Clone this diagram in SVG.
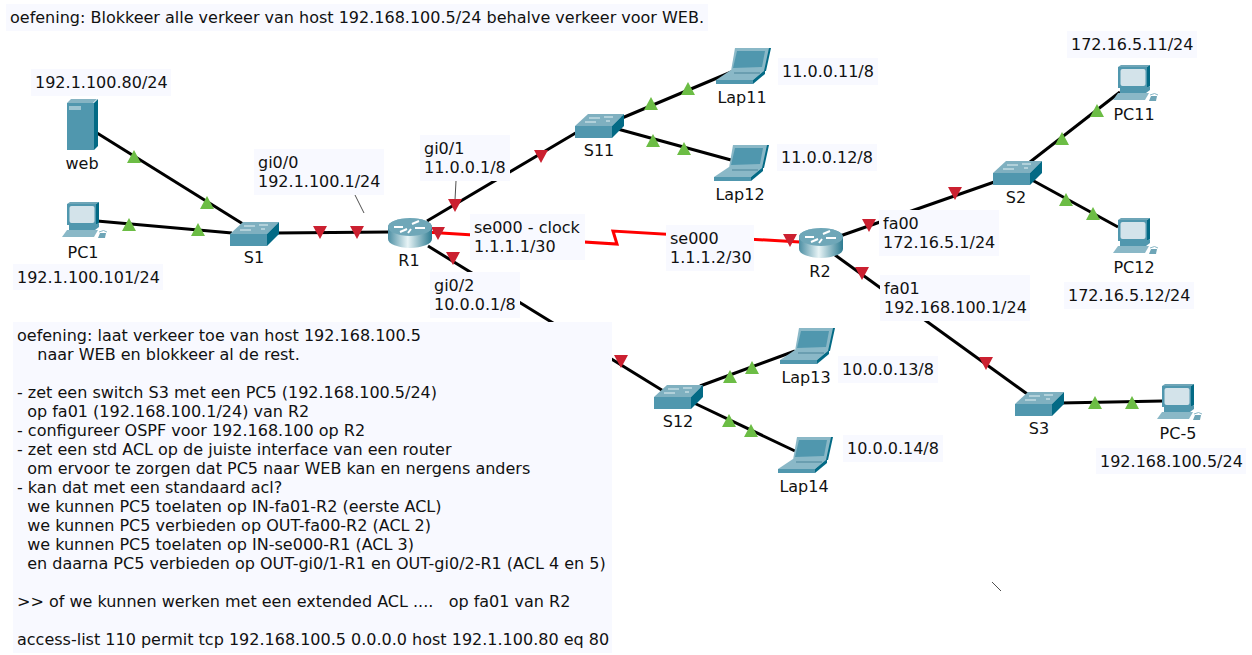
<svg xmlns="http://www.w3.org/2000/svg" width="1252" height="655" viewBox="0 0 1252 655">
<style>
text{font-family:"DejaVu Sans",sans-serif;font-size:16px;fill:#111}
.lbl{fill:#f8f9ff}
.c{stroke:#000;stroke-width:3;fill:none}
.r{stroke:#f00;stroke-width:3;fill:none}
.thin{stroke:#222;stroke-width:.8;fill:none}
.up{fill:#6cbd45}
.dn{fill:#cb2030}
.n{text-anchor:middle}
</style>
<defs>
<linearGradient id="rg" x1="0" x2="1" y1="0" y2="0"><stop offset="0" stop-color="#4b8ea3"/><stop offset=".45" stop-color="#e8f4f6"/><stop offset="1" stop-color="#2c7a90"/></linearGradient>
<polygon id="u" points="0,-7 7,6 -7,6"/>
<polygon id="d" points="-7,-6 7,-6 0,7"/>
<g id="sw">
<polygon points="0,9 13,-3 49,-3 37,9" fill="#7fb0c0"/>
<rect x="0" y="9" width="37" height="12" fill="#5097ae"/>
<polygon points="37,9 49,-3 49,9 37,21" fill="#036a85"/>
<path d="M14,1h11M29,0h9M10,5h11M31,4h4" stroke="#e4f1f4" stroke-width="1"/>
</g>
<g id="pc">
<polygon points="5,-2 8,-4 37,-4 34,-2" fill="#6ea5b7"/>
<rect x="5" y="-2" width="29" height="21" fill="#5097ae"/>
<polygon points="34,-2 37,-4 37,17 34,19" fill="#036a85"/>
<rect x="7.500" y="0" width="25" height="17" rx="2" fill="#d3e3ea"/>
<polygon points="7,19 33,19 37,17 37,21 33,24 7,24" fill="#5097ae"/>
<polygon points="0,31 5,24 36,24 32,31" fill="#8ab8c7"/>
<path d="M37,26q5,-3 8,0" stroke="#8ab8c7" fill="none"/>
<polygon points="36,32 38,27 44,27 43,32" fill="#6ea5b7"/>
</g>
<g id="lap">
<polygon points="19,0 54,0 49,23 15,23" fill="#8ab8c7"/>
<polygon points="21,3 49,3 46,19 17,20" fill="#5097ae"/>
<polygon points="53,0 55,0 50,23 48,23" fill="#036a85"/>
<polygon points="0,32 15,22 49,22 37,32" fill="#8ab8c7"/>
<polygon points="37,32 49,22 49,26 37,36" fill="#036a85"/>
<rect x="0" y="32" width="37" height="4" fill="#5097ae"/>
<path d="M18,25h26" stroke="#6a9eb0" stroke-width="2"/>
</g>
<g id="rt">
<path d="M0,9a22,9 0 0 1 44,0v12a22,9 0 0 1 -44,0z" fill="url(#rg)"/>
<ellipse cx="22" cy="9" rx="22" ry="9" fill="#6fa7b8"/>
<path d="M6,9h9M12,14l7,-3M24,6l7,-3M27,10h10M20,15l3,-4" stroke="#fff" stroke-width="2"/>
</g>
</defs>

<g id="connectors">
<path class="c" d="M97,133L243,224"/>
<path class="c" d="M97,221L232,233"/>
<path class="c" d="M275,233L390,232"/>
<path class="c" d="M427,221L579,131"/>
<path class="c" d="M428,246L665,392"/>
<path class="r" d="M425,232L617,244L613,231L800,242"/>
<path class="c" d="M622,118L736,70"/>
<path class="c" d="M614,128L731,160"/>
<path class="c" d="M840,236L1000,180"/>
<path class="c" d="M1030,162L1120,92"/>
<path class="c" d="M1032,180L1118,227"/>
<path class="c" d="M835,255L1030,396"/>
<path class="c" d="M1060,403L1163,401"/>
<path class="c" d="M700,386L795,351"/>
<path class="c" d="M694,403L795,451"/>
<path class="thin" d="M355,195L364,213"/>
<path class="thin" d="M456,181L455,200"/>
<path class="thin" d="M992,582L1001,591"/>
</g>

<g id="arrows">
<use href="#u" x="134" y="157" class="up"/><use href="#u" x="207" y="203" class="up"/>
<use href="#u" x="129" y="225" class="up"/><use href="#u" x="198" y="230" class="up"/>
<use href="#d" x="320" y="232" class="dn"/><use href="#d" x="357" y="232" class="dn"/>
<use href="#d" x="455" y="205" class="dn"/><use href="#d" x="541" y="156" class="dn"/>
<use href="#d" x="438" y="233" class="dn"/><use href="#d" x="453" y="258" class="dn"/>
<use href="#d" x="621" y="361" class="dn"/><use href="#u" x="651" y="104" class="up"/>
<use href="#u" x="688" y="89" class="up"/><use href="#u" x="653" y="141" class="up"/>
<use href="#u" x="684" y="149" class="up"/><use href="#d" x="790" y="240" class="dn"/>
<use href="#d" x="869" y="225" class="dn"/><use href="#d" x="955" y="193" class="dn"/>
<use href="#d" x="862" y="273" class="dn"/><use href="#d" x="986" y="363" class="dn"/>
<use href="#u" x="1062" y="139" class="up"/><use href="#u" x="1097" y="111" class="up"/>
<use href="#u" x="1066" y="200" class="up"/><use href="#u" x="1093" y="214" class="up"/>
<use href="#u" x="1095" y="403" class="up"/><use href="#u" x="1132" y="403" class="up"/>
<use href="#u" x="730" y="377" class="up"/><use href="#u" x="752" y="368" class="up"/>
<use href="#u" x="729" y="421" class="up"/><use href="#u" x="751" y="431" class="up"/>
</g>

<g id="node-web">
<polygon points="67,103 71,99 97,99 93,103" fill="#86b4c3"/>
<rect x="67" y="103" width="27" height="47" fill="#5097ae"/>
<polygon points="94,103 98,99 98,146 94,150" fill="#036a85"/>
<rect x="69" y="106" width="12" height="4" fill="#9cc4d1"/>
<text class="n" x="82" y="169">web</text>
</g>
<g id="node-PC1"><use href="#pc" x="62" y="206"/><text class="n" x="83" y="258">PC1</text></g>
<g id="node-S1"><use href="#sw" x="230" y="225"/><text class="n" x="254" y="263">S1</text></g>
<g id="node-R1"><use href="#rt" x="388" y="218"/><text class="n" x="409" y="266">R1</text></g>
<g id="node-S11"><use href="#sw" x="575" y="117"/><text class="n" x="599" y="156">S11</text></g>
<g id="node-Lap11"><use href="#lap" x="716" y="48"/><text class="n" x="742" y="103">Lap11</text></g>
<g id="node-Lap12"><use href="#lap" x="714" y="145"/><text class="n" x="740" y="200">Lap12</text></g>
<g id="node-S12"><use href="#sw" x="654" y="388"/><text class="n" x="678" y="427">S12</text></g>
<g id="node-Lap13"><use href="#lap" x="780" y="328"/><text class="n" x="806" y="383">Lap13</text></g>
<g id="node-Lap14"><use href="#lap" x="778" y="437"/><text class="n" x="804" y="492">Lap14</text></g>
<g id="node-R2"><use href="#rt" x="799" y="228"/><text class="n" x="820" y="277">R2</text></g>
<g id="node-S2"><use href="#sw" x="993" y="164"/><text class="n" x="1016" y="203">S2</text></g>
<g id="node-PC11"><use href="#pc" x="1113" y="69"/><text class="n" x="1134" y="120">PC11</text></g>
<g id="node-PC12"><use href="#pc" x="1113" y="222"/><text class="n" x="1134" y="273">PC12</text></g>
<g id="node-S3"><use href="#sw" x="1015" y="395"/><text class="n" x="1039" y="434">S3</text></g>
<g id="node-PC5"><use href="#pc" x="1157" y="388"/><text class="n" x="1178" y="439">PC-5</text></g>

<g id="labels">
<rect class="lbl" x="6" y="4" width="702" height="27"/><text x="10" y="23">oefening: Blokkeer alle verkeer van host 192.168.100.5/24 behalve verkeer voor WEB.</text>
<rect class="lbl" x="31" y="69" width="140" height="27"/><text x="35" y="88">192.1.100.80/24</text>
<rect class="lbl" x="13" y="264" width="150" height="26"/><text x="17" y="283">192.1.100.101/24</text>
<rect class="lbl" x="254" y="149" width="130" height="46"/><text x="258" y="168">gi0/0</text><text x="258" y="187">192.1.100.1/24</text>
<rect class="lbl" x="420" y="135" width="90" height="46"/><text x="424" y="154">gi0/1</text><text x="424" y="173">11.0.0.1/8</text>
<rect class="lbl" x="470" y="214" width="115" height="46"/><text x="474" y="233">se000 - clock</text><text x="474" y="252">1.1.1.1/30</text>
<rect class="lbl" x="430" y="272" width="90" height="46"/><text x="434" y="291">gi0/2</text><text x="434" y="310">10.0.0.1/8</text>
<rect class="lbl" x="666" y="225" width="88" height="46"/><text x="670" y="244">se000</text><text x="670" y="263">1.1.1.2/30</text>
<rect class="lbl" x="879" y="210" width="120" height="46"/><text x="883" y="229">fa00</text><text x="883" y="248">172.16.5.1/24</text>
<rect class="lbl" x="880" y="275" width="150" height="46"/><text x="884" y="294">fa01</text><text x="884" y="313">192.168.100.1/24</text>
<rect class="lbl" x="778" y="58" width="100" height="27"/><text x="782" y="77">11.0.0.11/8</text>
<rect class="lbl" x="777" y="144" width="100" height="27"/><text x="781" y="163">11.0.0.12/8</text>
<rect class="lbl" x="838" y="356" width="100" height="27"/><text x="842" y="375">10.0.0.13/8</text>
<rect class="lbl" x="843" y="435" width="100" height="27"/><text x="847" y="454">10.0.0.14/8</text>
<rect class="lbl" x="1067" y="31" width="130" height="27"/><text x="1071" y="50">172.16.5.11/24</text>
<rect class="lbl" x="1064" y="282" width="130" height="27"/><text x="1068" y="301">172.16.5.12/24</text>
<rect class="lbl" x="1096" y="448" width="150" height="26"/><text x="1100" y="467">192.168.100.5/24</text>
<rect class="lbl" x="13" y="322" width="599" height="331"/>
<text x="17" y="341">oefening: laat verkeer toe van host 192.168.100.5</text>
<text x="17" y="360" xml:space="preserve">    naar WEB en blokkeer al de rest.</text>
<text x="17" y="398">- zet een switch S3 met een PC5 (192.168.100.5/24)</text>
<text x="17" y="417" xml:space="preserve">  op fa01 (192.168.100.1/24) van R2</text>
<text x="17" y="436">- configureer OSPF voor 192.168.100 op R2</text>
<text x="17" y="455">- zet een std ACL op de juiste interface van een router</text>
<text x="17" y="474" xml:space="preserve">  om ervoor te zorgen dat PC5 naar WEB kan en nergens anders</text>
<text x="17" y="493">- kan dat met een standaard acl?</text>
<text x="17" y="512" xml:space="preserve">  we kunnen PC5 toelaten op IN-fa01-R2 (eerste ACL)</text>
<text x="17" y="531" xml:space="preserve">  we kunnen PC5 verbieden op OUT-fa00-R2 (ACL 2)</text>
<text x="17" y="550" xml:space="preserve">  we kunnen PC5 toelaten op IN-se000-R1 (ACL 3)</text>
<text x="17" y="569" xml:space="preserve">  en daarna PC5 verbieden op OUT-gi0/1-R1 en OUT-gi0/2-R1 (ACL 4 en 5)</text>
<text x="17" y="607" xml:space="preserve">&gt;&gt; of we kunnen werken met een extended ACL ....   op fa01 van R2</text>
<text x="17" y="645">access-list 110 permit tcp 192.168.100.5 0.0.0.0 host 192.1.100.80 eq 80</text>
</g>
</svg>
